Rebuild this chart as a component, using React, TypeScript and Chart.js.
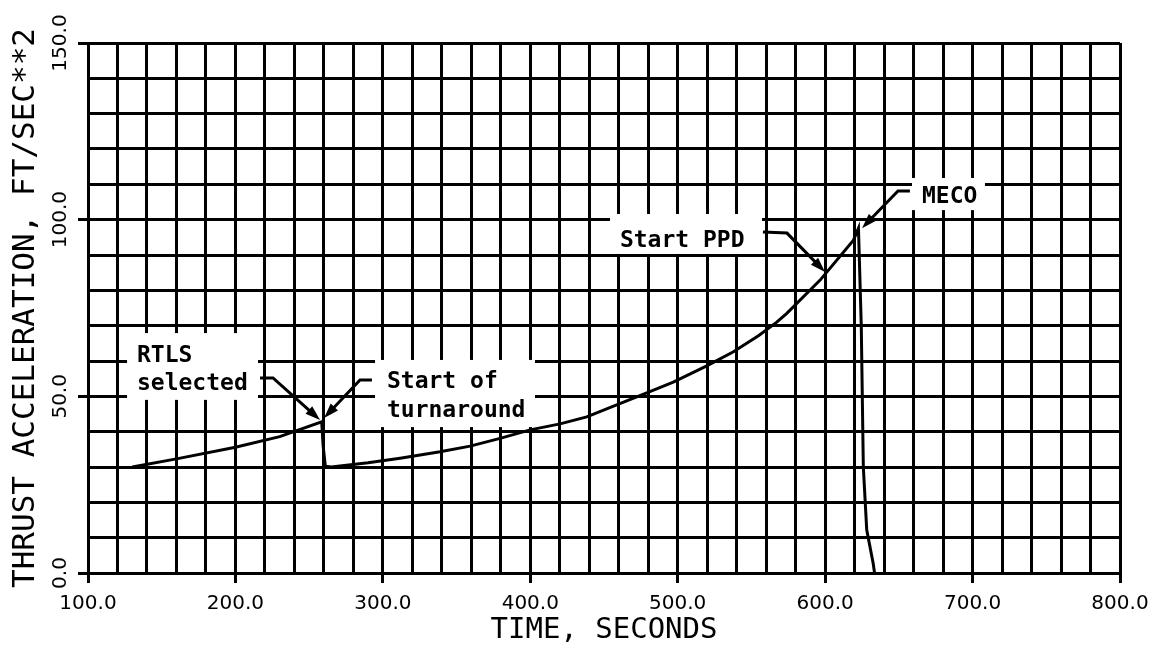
import React, { useEffect, useRef } from "react";
import { Chart, registerables } from "chart.js";

Chart.register(...registerables);

// ---- Data ----
const timeSeconds = [
  130, 160, 200, 230, 258.5, 259.5, 261, 265, 290, 311.7, 338.8, 359.2, 379.5,
  399.9, 420.2, 438.3, 458.6, 479, 497, 519.7, 537.8, 555, 567.2, 574, 596.6,
  619.2, 622.6, 624.5, 625.9, 628.2, 632.6, 633.5,
];
const thrustAccel = [
  30, 32.3, 35.6, 38.6, 42.8, 36, 30.2, 30, 31.2, 32.5, 34.3, 35.9, 38.1, 40.5,
  42.2, 44.2, 47.6, 51.0, 54.0, 58.6, 62.6, 67.2, 71.0, 73.5, 82.9, 94.2, 97.6,
  70, 30, 12.2, 2.7, 0,
];

const xLabelledTicks = [100, 200, 300, 400, 500, 600, 700, 800];
const yLabelledTicks = [0, 50, 100, 150];

const xTitle = "TIME, SECONDS";
const yTitle = "THRUST ACCELERATION, FT/SEC**2";

const calloutTexts = [
  ["RTLS", "selected"],
  ["Start of", "turnaround"],
  ["Start PPD"],
  ["MECO"],
];

// ---- Callout placement (data coordinates) ----
const calloutLayout = [
  {
    box: [126.5, 67.9, 215.3, 49.0],
    textX: 133.2,
    baselines: [59.7, 51.8],
    leader: [
      [216.7, 55.2],
      [225.5, 55.2],
      [257.4, 43.3],
    ],
  },
  {
    box: [294.7, 60.3, 403.2, 41.3],
    textX: 302.8,
    baselines: [52.4, 44.2],
    leader: [
      [292.6, 54.6],
      [284.5, 54.6],
      [260.1, 43.9],
    ],
  },
  {
    box: [454.1, 101.6, 557.2, 90.3],
    textX: 460.8,
    baselines: [92.3],
    leader: [
      [557.8, 96.5],
      [574.1, 96.2],
      [599.9, 85.2],
    ],
  },
  {
    box: [658.9, 111.8, 708.4, 102.7],
    textX: 665.7,
    baselines: [104.7],
    leader: [
      [657.5, 108.1],
      [649.4, 108.1],
      [625.0, 97.6],
    ],
  },
];

const calloutPlugin = {
  id: "callouts",
  beforeDatasetsDraw(chart: any) {
    const { ctx } = chart;
    const xs = chart.scales.x;
    const ys = chart.scales.y;
    const px = (v: number) => xs.getPixelForValue(v);
    const py = (v: number) => ys.getPixelForValue(v);
    ctx.save();
    ctx.fillStyle = "#ffffff";
    calloutLayout.forEach((c) => {
      const x0 = px(c.box[0]);
      const x1 = px(c.box[2]);
      const y0 = py(c.box[1]);
      const y1 = py(c.box[3]);
      ctx.fillRect(Math.min(x0, x1), Math.min(y0, y1), Math.abs(x1 - x0), Math.abs(y1 - y0));
    });
    ctx.fillStyle = "#000000";
    ctx.font = 'bold 23px "DejaVu Sans Mono"';
    ctx.textAlign = "left";
    ctx.textBaseline = "alphabetic";
    calloutLayout.forEach((c, i) => {
      calloutTexts[i].forEach((line, j) => {
        ctx.fillText(line, px(c.textX), py(c.baselines[j]));
      });
    });
    ctx.strokeStyle = "#000000";
    ctx.lineWidth = 3;
    ctx.lineJoin = "miter";
    calloutLayout.forEach((c) => {
      const pts = c.leader.map(([a, b]) => [px(a), py(b)]);
      const [ex, ey] = pts[pts.length - 2];
      const [tx, ty] = pts[pts.length - 1];
      const dx = tx - ex;
      const dy = ty - ey;
      const len = Math.hypot(dx, dy) || 1;
      const ux = dx / len;
      const uy = dy / len;
      const head = 15;
      const half = 5;
      ctx.beginPath();
      ctx.moveTo(pts[0][0], pts[0][1]);
      for (let k = 1; k < pts.length - 1; k++) ctx.lineTo(pts[k][0], pts[k][1]);
      ctx.lineTo(tx - ux * (head - 2), ty - uy * (head - 2));
      ctx.stroke();
      const bx = tx - ux * head;
      const by = ty - uy * head;
      ctx.beginPath();
      ctx.moveTo(tx, ty);
      ctx.lineTo(bx - uy * half, by + ux * half);
      ctx.lineTo(bx + uy * half, by - ux * half);
      ctx.closePath();
      ctx.fill();
    });
    ctx.restore();
  },
};

export default function App() {
  const canvasRef = useRef<HTMLCanvasElement | null>(null);

  useEffect(() => {
    if (!canvasRef.current) return;
    const points = timeSeconds.map((t, i) => ({ x: t, y: thrustAccel[i] }));
    const chart = new Chart(canvasRef.current, {
      type: "line",
      data: {
        datasets: [
          {
            data: points,
            borderColor: "#000000",
            borderWidth: 3,
            pointRadius: 0,
            tension: 0,
            fill: false,
          },
        ],
      },
      plugins: [calloutPlugin],
      options: {
        animation: false,
        responsive: true,
        maintainAspectRatio: false,
        layout: { padding: { top: 35, right: 38, left: 0, bottom: 0 } },
        plugins: {
          legend: { display: false },
          tooltip: { enabled: false },
        },
        scales: {
          x: {
            type: "linear",
            min: 100,
            max: 800,
            afterFit: (s: any) => {
              s.height = 69;
            },
            ticks: {
              stepSize: 20,
              autoSkip: false,
              maxRotation: 0,
              minRotation: 0,
              padding: 9,
              color: "#000000",
              font: { family: '"DejaVu Sans"', size: 20 },
              callback: (v: any) =>
                xLabelledTicks.includes(Number(v)) ? Number(v).toFixed(1) : "",
            },
            grid: {
              color: "#000000",
              lineWidth: 3,
              tickLength: 10,
              tickColor: (c: any) =>
                c.tick && xLabelledTicks.includes(c.tick.value) ? "#000000" : "rgba(0,0,0,0)",
            },
            border: { display: true, color: "#000000", width: 3 },
            title: {
              display: true,
              text: xTitle,
              color: "#000000",
              font: { family: '"DejaVu Sans Mono"', size: 29, lineHeight: 1 },
              padding: { top: 0, bottom: -3 },
            },
          },
          y: {
            type: "linear",
            min: 0,
            max: 150,
            afterFit: (s: any) => {
              s.width = 80;
            },
            ticks: {
              stepSize: 10,
              autoSkip: false,
              minRotation: 90,
              maxRotation: 90,
              crossAlign: "center",
              padding: -11,
              color: "#000000",
              font: { family: '"DejaVu Sans"', size: 20 },
              callback: (v: any) =>
                yLabelledTicks.includes(Number(v)) ? Number(v).toFixed(1) : "",
            },
            grid: {
              color: "#000000",
              lineWidth: 3,
              tickLength: 10,
              tickColor: (c: any) =>
                c.tick && yLabelledTicks.includes(c.tick.value) ? "#000000" : "rgba(0,0,0,0)",
            },
            border: { display: true, color: "#000000", width: 3 },
            title: {
              display: true,
              text: yTitle,
              color: "#000000",
              font: { family: '"DejaVu Sans Mono"', size: 31, lineHeight: 1 },
              padding: { top: 2, bottom: 0 },
            },
          },
        },
      },
    });
    return () => chart.destroy();
  }, []);

  return (
    <div style={{ width: 1150, height: 634, position: "relative" }}>
      <canvas ref={canvasRef} />
    </div>
  );
}
